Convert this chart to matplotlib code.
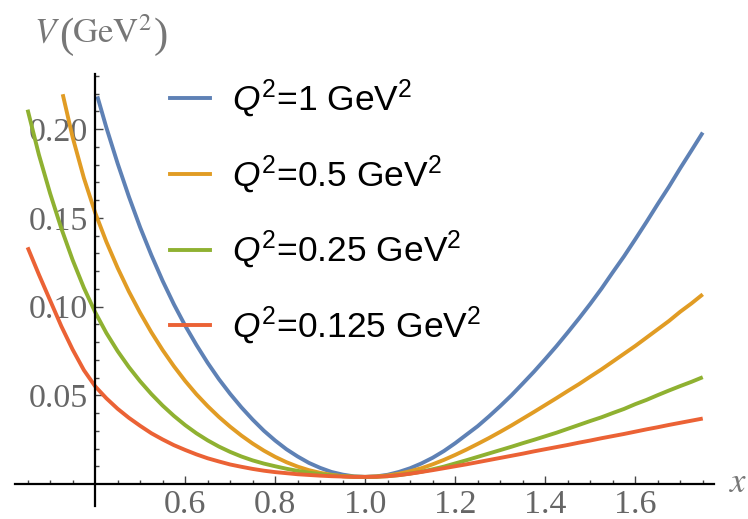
import matplotlib.pyplot as plt
from matplotlib.font_manager import FontProperties
from matplotlib.lines import Line2D

x_full = [0.250, 0.275, 0.300, 0.325, 0.350, 0.375, 0.400, 0.425, 0.450,
          0.475, 0.500, 0.525, 0.550, 0.575, 0.600, 0.625, 0.650, 0.675,
          0.700, 0.725, 0.750, 0.775, 0.800, 0.825, 0.850, 0.875, 0.900,
          0.925, 0.950, 0.975, 1.000, 1.025, 1.050, 1.075, 1.100, 1.125,
          1.150, 1.175, 1.200, 1.225, 1.250, 1.275, 1.300, 1.325, 1.350,
          1.375, 1.400, 1.425, 1.450, 1.475, 1.500, 1.525, 1.550, 1.575,
          1.600, 1.625, 1.650, 1.675, 1.700, 1.725, 1.750]

# Q^2 = 1 (enters the frame at x = 0.405)
x_q1 = [0.405] + x_full[7:]
v_q1 = [0.2185, 0.2009, 0.1807, 0.1620, 0.1447, 0.1290, 0.1145, 0.1013,
        0.0893, 0.0784, 0.0683, 0.0591, 0.0508, 0.0432, 0.0363, 0.0300,
        0.0245, 0.0196, 0.0155, 0.0119, 0.0091, 0.0068, 0.0053, 0.0043,
        0.0040, 0.0043, 0.0052, 0.0068, 0.0089, 0.0116, 0.0148, 0.0186,
        0.0230, 0.0278, 0.0326, 0.0381, 0.0439, 0.0500, 0.0566, 0.0633,
        0.0704, 0.0777, 0.0854, 0.0933, 0.1015, 0.1101, 0.1193, 0.1283,
        0.1379, 0.1477, 0.1578, 0.1676, 0.1780, 0.1880, 0.1981]

# Q^2 = 0.5 (enters the frame at x = 0.328)
x_q05 = [0.328] + x_full[4:]
v_q05 = [0.2197, 0.1955, 0.1725, 0.1530, 0.1365, 0.1218, 0.1085, 0.0965,
         0.0855, 0.0755, 0.0664, 0.0581, 0.0506, 0.0439, 0.0378, 0.0323,
         0.0273, 0.0228, 0.0188, 0.0153, 0.0123, 0.0098, 0.0078, 0.0063,
         0.0052, 0.0044, 0.0041, 0.0040, 0.0042, 0.0048, 0.0058, 0.0072,
         0.0089, 0.0111, 0.0136, 0.0164, 0.0194, 0.0226, 0.0259, 0.0294,
         0.0330, 0.0368, 0.0406, 0.0445, 0.0484, 0.0524, 0.0563, 0.0605,
         0.0646, 0.0690, 0.0734, 0.0778, 0.0825, 0.0872, 0.0919, 0.0971,
         0.1018, 0.1069]

# Q^2 = 0.25
v_q025 = [0.2110, 0.1857, 0.1638, 0.1440, 0.1263, 0.1106, 0.0969, 0.0851,
          0.0749, 0.0659, 0.0579, 0.0507, 0.0442, 0.0384, 0.0332, 0.0286,
          0.0246, 0.0211, 0.0181, 0.0155, 0.0133, 0.0115, 0.0100, 0.0086,
          0.0074, 0.0064, 0.0056, 0.0049, 0.0044, 0.0041, 0.0040, 0.0041,
          0.0044, 0.0050, 0.0059, 0.0069, 0.0083, 0.0098, 0.0116, 0.0134,
          0.0153, 0.0172, 0.0191, 0.0210, 0.0230, 0.0249, 0.0269, 0.0289,
          0.0311, 0.0333, 0.0355, 0.0376, 0.0400, 0.0423, 0.0450, 0.0474,
          0.0501, 0.0527, 0.0552, 0.0576, 0.0602]

# Q^2 = 0.125
v_q0125 = [0.1334, 0.1181, 0.1035, 0.0889, 0.0758, 0.0642, 0.0551, 0.0483,
           0.0424, 0.0373, 0.0328, 0.0286, 0.0251, 0.0219, 0.0192, 0.0167,
           0.0145, 0.0127, 0.0110, 0.0097, 0.0085, 0.0075, 0.0067, 0.0061,
           0.0055, 0.0051, 0.0047, 0.0044, 0.0042, 0.0040, 0.0040, 0.0041,
           0.0044, 0.0050, 0.0058, 0.0068, 0.0078, 0.0089, 0.0100, 0.0111,
           0.0123, 0.0135, 0.0147, 0.0159, 0.0171, 0.0184, 0.0196, 0.0208,
           0.0220, 0.0233, 0.0245, 0.0258, 0.0270, 0.0282, 0.0295, 0.0308,
           0.0320, 0.0333, 0.0345, 0.0357, 0.0369]

labels = [r"$Q^2$=1 GeV$^2$", r"$Q^2$=0.5 GeV$^2$",
          r"$Q^2$=0.25 GeV$^2$", r"$Q^2$=0.125 GeV$^2$"]
colors = ["#5E81B5", "#E19C24", "#8FB131", "#EB6235"]

x_major = [0.6, 0.8, 1.0, 1.2, 1.4, 1.6]
x_minor = [0.25, 0.30, 0.35, 0.45, 0.50, 0.55, 0.65, 0.70, 0.75, 0.85, 0.90,
           0.95, 1.05, 1.10, 1.15, 1.25, 1.30, 1.35, 1.45, 1.50, 1.55, 1.65,
           1.70, 1.75]
y_major = [0.05, 0.10, 0.15, 0.20]
y_minor = [0.01, 0.02, 0.03, 0.04, 0.06, 0.07, 0.08, 0.09, 0.11, 0.12, 0.13,
           0.14, 0.16, 0.17, 0.18, 0.19, 0.21, 0.22, 0.23]

plt.rcParams['font.family'] = ['Liberation Serif', 'DejaVu Serif']
plt.rcParams['mathtext.fontset'] = 'custom'
plt.rcParams['mathtext.rm'] = 'Liberation Sans'
plt.rcParams['mathtext.it'] = 'Liberation Sans:italic'

W, H = 748, 519
fig = plt.figure(figsize=(W / 100, H / 100), dpi=100)
ax = fig.add_axes([15 / W, 1 - 506 / H, (714 - 15) / W, (506 - 74) / H])
ax.set_xlim(0.222, 1.775)
ax.set_ylim(-0.0124, 0.2311)

series = [(x_q1, v_q1), (x_q05, v_q05), (x_full, v_q025), (x_full, v_q0125)]
for (xs, vs), c in zip(series, colors):
    ax.plot(xs, vs, color=c, lw=2.8, solid_capstyle='butt',
            solid_joinstyle='round')

# axes cross at (0.4, 0)
for side in ["top", "right"]:
    ax.spines[side].set_visible(False)
ax.spines["left"].set_position(("data", 0.4))
ax.spines["bottom"].set_position(("data", 0.0))
for side in ["left", "bottom"]:
    ax.spines[side].set_linewidth(1.6)
    ax.spines[side].set_color("black")

ax.set_xticks(x_major)
ax.set_xticklabels(["0.6", "0.8", "1.0", "1.2", "1.4", "1.6"])
ax.set_xticks(x_minor, minor=True)
ax.set_yticks(y_major)
ax.set_yticklabels(["0.05", "0.10", "0.15", "0.20"])
ax.set_yticks(y_minor, minor=True)
ax.tick_params(which="both", direction="in", color="#444444", width=1.0,
               labelsize=24.5, labelcolor="#666666")
ax.tick_params(which="major", length=6)
ax.tick_params(which="minor", length=3)
ax.tick_params(axis="x", which="both", pad=4)
ax.tick_params(axis="y", which="both", pad=5)


def px_text(x, y, s, size, **kw):
    # place text by pixel position measured from the top-left corner
    return fig.text(x / W, 1 - y / H, s, fontsize=size, color="#777777",
                    math_fontfamily="stix", ha="left", va="baseline", **kw)


# axis label V(GeV^2) with tall brackets
px_text(34, 43, r"$V$", 25)
px_text(59, 47, "(", 31)
px_text(72, 43, r"$\mathrm{GeV}^2$", 25)
px_text(154, 47, ")", 31)
fig.text(729 / W, 1 - 483 / H, r"$x$", fontsize=25, color="#777777",
         math_fontfamily="stix", ha="left", va="center")

handles = [Line2D([], [], color=c, lw=2.8) for c in colors]
prop = FontProperties(family="Liberation Sans", size=25.5, math_fontfamily="custom")
ax.legend(handles, labels, loc="upper left", bbox_to_anchor=(170 / W, 1 - 78 / H),
          bbox_transform=fig.transFigure, frameon=False, prop=prop,
          handlelength=1.13, handletextpad=0.62, labelspacing=0.95,
          borderpad=0, borderaxespad=0)

fig.savefig("out.png", dpi=100)
